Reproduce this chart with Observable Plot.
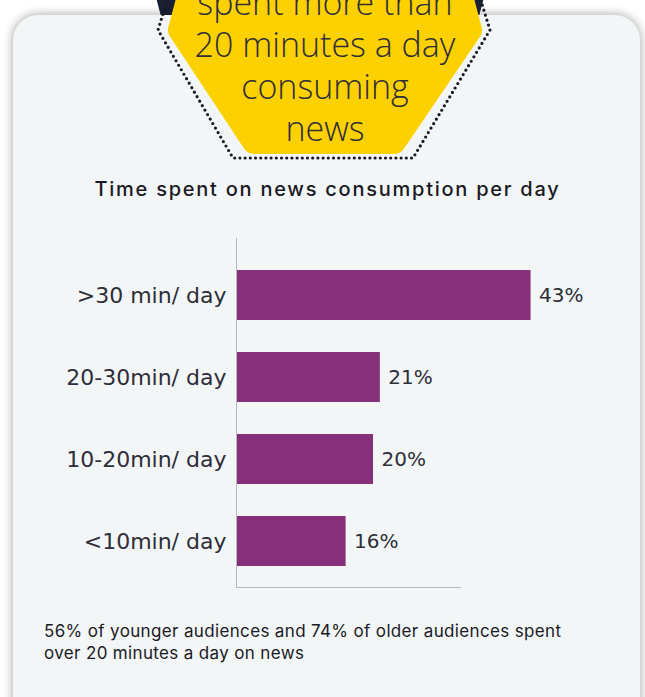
<!DOCTYPE html>
<html>
<head>
<meta charset="utf-8">
<script src="https://cdn.jsdelivr.net/npm/d3@7"></script>
<script src="https://cdn.jsdelivr.net/npm/@observablehq/plot@0.6"></script>
<style>
  html, body { margin: 0; padding: 0; background: #ffffff; }
  #page { position: relative; width: 645px; height: 697px; overflow: hidden; background: #ffffff; }
  #deco-back { position: absolute; left: 0; top: 0; }
  #card { position: absolute; left: 13px; top: 15px; width: 627px; height: 720px; border-radius: 25px;
          background: #f3f6f7; box-shadow: 0 0 10px 1px rgba(0,0,0,0.32); }
  #deco-front { position: absolute; left: 0; top: 0; }
  #badge-text { position: absolute; left: 125px; width: 400px; top: -19px; text-align: center;
          font-family: "Open Sans", sans-serif; font-weight: 300; font-size: 34px; line-height: 42px; color: #2e2e38; }
  #title { position: absolute; left: 0; width: 655px; top: 177px; text-align: center;
          font-family: "Inter", sans-serif; font-weight: 500; font-size: 20px; letter-spacing: 1.75px; color: #1a1a24; }
  #chart { position: absolute; left: 0; top: 220px; }
  #caption { position: absolute; left: 44px; top: 620px; width: 600px;
          font-family: "Inter", sans-serif; font-size: 17px; line-height: 22px; letter-spacing: 0.35px; color: #1a1a24; }
</style>
</head>
<body>
<div id="page">
  <svg id="deco-back" width="645" height="697">
    <circle cx="320" cy="-35" r="167" fill="#1a2133"></circle>
  </svg>
  <div id="card"></div>
  <svg id="deco-front" width="645" height="697">
    <path d="M 192 -80 L 158 30 L 233 158 L 413 158 L 490 30 L 456 -80"
          fill="none" stroke="#1a1a24" stroke-width="3.2" stroke-linecap="round" stroke-linejoin="round" stroke-dasharray="0 5.2"></path>
    <path d="M 207 -72 L 180 30 L 254 142 L 394 142 L 470 30 L 443 -72 Z"
          fill="#fdd100" stroke="#fdd100" stroke-width="24" stroke-linejoin="round"></path>
  </svg>
  <div id="badge-text">spent more than<br>20 minutes a day<br>consuming<br>news</div>
  <div id="title">Time spent on news consumption per day</div>
  <div id="chart"></div>
  <div id="caption">56% of younger audiences and 74% of older audiences spent<br>over 20 minutes a day on news</div>
</div>
<script>
const categories = [">30 min/ day", "20-30min/ day", "10-20min/ day", "<10min/ day"];
const values = [43, 21, 20, 16];
const valueLabels = ["43%", "21%", "20%", "16%"];
const axisExtent = [0, 32.7];

const data = categories.map((c, i) => ({category: c, value: values[i], label: valueLabels[i]}));

const chart = Plot.plot({
  width: 645,
  height: 380,
  marginTop: 18,
  marginBottom: 13,
  marginLeft: 236,
  marginRight: 185,
  style: {background: "transparent", fontFamily: "DejaVu Sans, sans-serif", fontSize: "22px", color: "#2e2e38", overflow: "visible"},
  x: {domain: axisExtent, axis: null},
  y: {domain: categories, paddingInner: 0.39, paddingOuter: 0.32, align: 0.6, label: null, tickSize: 0, tickPadding: 10},
  marks: [
    Plot.barX(data, {y: "category", x: "value", fill: "#872f7b"}),
    Plot.text(data, {y: "category", x: "value", text: "label", textAnchor: "start", dx: 8, fill: "#2e2e38", fontSize: 20}),
    Plot.frame({anchor: "left", stroke: "#b4b8bc"}),
    Plot.frame({anchor: "bottom", stroke: "#b4b8bc"})
  ]
});
document.getElementById("chart").appendChild(chart);
</script>
</body>
</html>
